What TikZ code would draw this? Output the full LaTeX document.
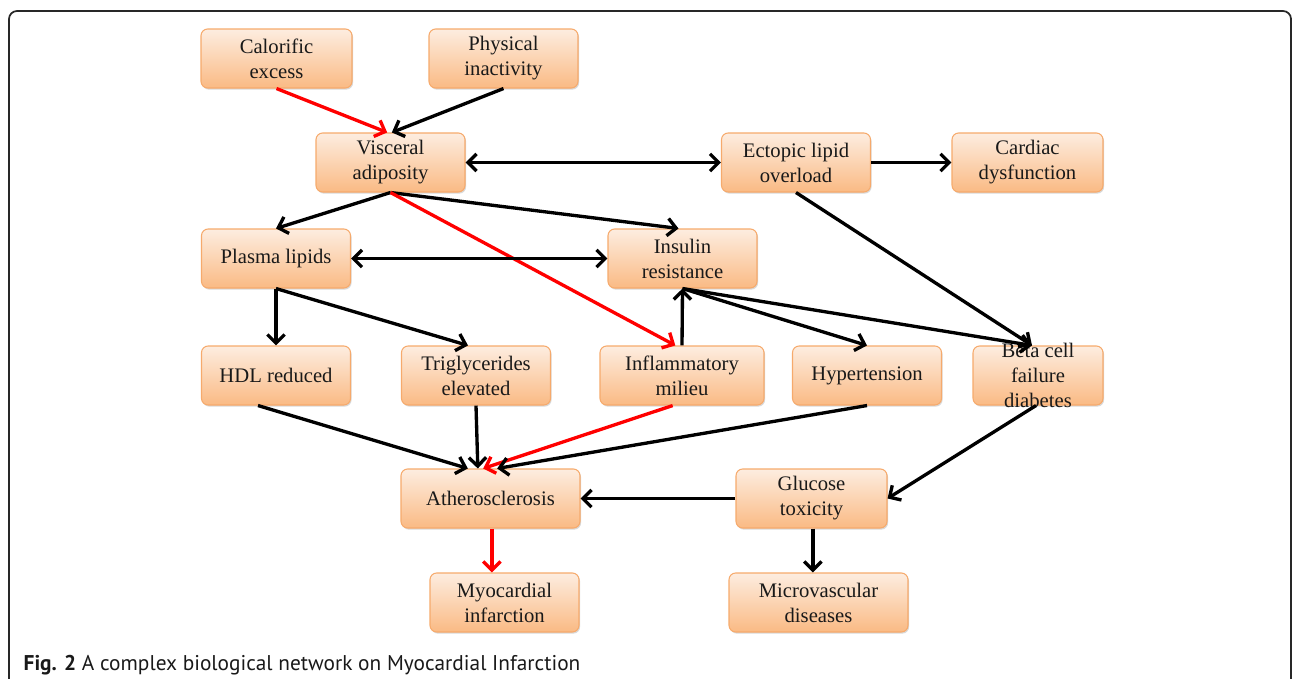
\documentclass[tikz,border=0pt]{standalone}
\usepackage{fontspec}
\setmainfont{Liberation Serif}
\newfontfamily\capfont{PT Sans}
\usetikzlibrary{arrows.meta,shadows}

\definecolor{boxtop}{RGB}{253,237,224}
\definecolor{boxbottom}{RGB}{250,186,132}
\definecolor{boxline}{RGB}{246,170,108}
\definecolor{linkred}{RGB}{255,0,0}
\definecolor{framegray}{RGB}{40,40,40}

\tikzset{
	factor/.style={rectangle, rounded corners=5pt, draw=boxline, line width=0.8pt,
		top color=boxtop, bottom color=boxbottom,
		minimum width=111.75pt, minimum height=44.25pt, inner xsep=2pt, inner ysep=-3pt,
		align=center, text=black!90, font=\fontsize{15.5}{18.75}\selectfont,
		drop shadow={shadow xshift=0.8pt, shadow yshift=-1.2pt, opacity=0.3}},
	hot/.style={color=linkred}
}

\begin{document}
\begin{tikzpicture}[x=0.75pt, y=-0.75pt, >={Straight Barb[length=6.5pt,width=13pt]}, line width=2.5pt]
	\useasboundingbox (0,0) rectangle (1295,678);
	\draw [framegray, line width=1.3pt, rounded corners=6pt] (9,700) -- (9,11) -- (1291,11) -- (1291,700);

	% Nodes {row by row}
	\node [factor, minimum width=113.25pt] 	(cal) 	at (276.5,58.5) 	{Calorific\\excess};
	\node [factor] 							(phys) 	at (503.5,58.5) 	{Physical\\inactivity};
	\node [factor] 							(visc) 	at (390.5,162.5) 	{Visceral\\adiposity};
	\node [factor] 							(ect) 	at (796,162.5) 		{Ectopic lipid\\overload};
	\node [factor, minimum width=113.25pt] 	(card) 	at (1027.5,162.5) 	{Cardiac\\dysfunction};
	\node [factor] 							(plasma) at (276,258.5) 	{Plasma lipids};
	\node [factor] 							(ins) 	at (682.5,258.5) 	{Insulin\\resistance};
	\node [factor] 							(hdl) 	at (276,375.5) 		{HDL reduced};
	\node [factor] 							(trig) 	at (476,375.5) 		{Triglycerides\\elevated};
	\node [factor, minimum width=123pt] 	(infl) 	at (682,375.5) 		{Inflammatory\\milieu};
	\node [factor] 							(hyp) 	at (867,375.5) 		{Hypertension};
	\node [factor, minimum width=97.5pt] 	(beta) 	at (1038,375.5) 	{Beta cell\\failure\\diabetes};
	\node [factor, minimum width=134.25pt] 	(ath) 	at (490.5,498.5) 	{Atherosclerosis};
	\node [factor, minimum width=113.25pt] 	(gluc) 	at (811.5,498.5) 	{Glucose\\toxicity};
	\node [factor] 							(myo) 	at (504.5,602.5) 	{Myocardial\\infarction};
	\node [factor, minimum width=134.25pt] 	(micro) at (818.5,602.5) 	{Microvascular\\diseases};

	% Caption
	\node [anchor=base west, inner sep=0pt, font=\capfont\fontsize{16}{19}\selectfont, text=black!90] (cap) at (22,670)
		{\textbf{Fig. 2} A complex biological network on Myocardial Infarction};

	% Paths
	\path [->, hot] 	(cal.south) 	edge 	([xshift=-2.5pt]visc.north);
	\path [->] 	(phys.south) 	edge 	([xshift=1pt]visc.north);
	\path [<->] (visc.east) 	edge 	(ect.west);
	\path [->] 	(ect.east) 		edge 	(card.west);
	\path [->] 	(visc.south) 	edge 	(plasma.north);
	\path [->] 	(visc.south) 	edge 	([xshift=-3pt]ins.north);
	\path [->, hot] 	(visc.south) 	edge 	([xshift=-5pt]infl.north);
	\path [->] 	(ect.south) 	edge 	([xshift=-4.5pt]beta.north);
	\path [<->] (plasma.east) 	edge 	(ins.west);
	\path [->] 	(plasma.south) 	edge 	(hdl.north);
	\path [->] 	(plasma.south) 	edge 	([xshift=-6pt]trig.north);
	\path [->] 	(infl.north) 	edge 	(ins.south);
	\path [->] 	(ins.south) 	edge 	(hyp.north);
	\path [->] 	(ins.south) 	edge 	([xshift=-4.5pt]beta.north);
	\path [->] 	([xshift=-13.5pt]hdl.south) 	edge 	([xshift=-17pt]ath.north);
	\path [->] 	(trig.south) 	edge 	([xshift=-9.5pt]ath.north);
	\path [->, hot] 	([xshift=-7pt]infl.south) 	edge 	([xshift=-5.5pt]ath.north);
	\path [->] 	(hyp.south) 	edge 	([xshift=5pt]ath.north);
	\path [->] 	([xshift=-1.5pt]beta.south) 	edge 	(gluc.east);
	\path [->] 	(gluc.west) 	edge 	(ath.east);
	\path [->, hot] 	([xshift=1pt]ath.south) 	edge 	([xshift=1pt]ath.south |- myo.north);
	\path [->] 	([xshift=1pt]gluc.south) 	edge 	([xshift=1pt]gluc.south |- micro.north);

\end{tikzpicture}
\end{document}
